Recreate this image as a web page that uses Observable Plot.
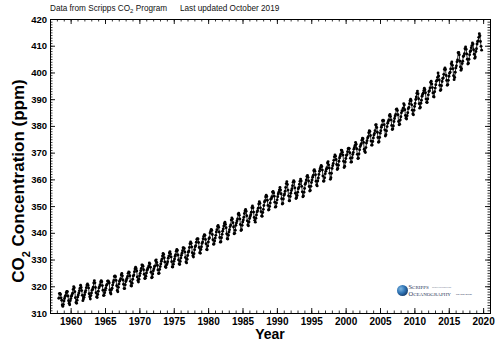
<!DOCTYPE html>
<html>
<head>
<meta charset="utf-8">
<script src="https://cdn.jsdelivr.net/npm/d3@7"></script>
<script src="https://cdn.jsdelivr.net/npm/@observablehq/plot@0.6"></script>
<style>
  html, body { margin: 0; padding: 0; background: #fff; }
  #chart svg { display: block; }
</style>
</head>
<body>
<div id="chart"></div>
<script>
// Mauna Loa monthly mean CO2 (ppm), starting March 1958
const startYear = 1958;
const startMonth = 3;

const co2_1958_1959 = [
  315.71, 317.45, 317.50, 317.10, 315.86, 314.93, 313.20, 312.66, 313.33, 314.67,
  315.62, 316.38, 316.71, 317.72, 318.29, 318.15, 316.54, 314.80, 313.84, 313.26, 314.80, 315.58
];
const co2_1960s = [
  316.43, 316.97, 317.58, 319.02, 320.03, 319.59, 318.18, 315.91, 314.16, 313.83, 315.00, 316.19,
  316.93, 317.70, 318.54, 319.48, 320.58, 319.77, 318.57, 316.79, 314.80, 315.38, 316.10, 317.01,
  317.94, 318.56, 319.68, 320.63, 321.01, 320.55, 319.58, 317.40, 316.26, 315.42, 316.69, 317.69,
  318.74, 319.08, 319.86, 321.39, 322.25, 321.47, 319.74, 317.77, 316.21, 315.99, 317.12, 318.31,
  319.57, 320.07, 320.73, 321.77, 322.25, 321.89, 320.44, 318.70, 316.70, 316.79, 317.79, 318.71,
  319.44, 320.44, 320.89, 322.13, 322.16, 321.87, 321.39, 318.81, 317.81, 317.30, 318.87, 319.42,
  320.62, 321.59, 322.39, 323.87, 324.01, 323.75, 322.39, 320.37, 318.64, 318.10, 319.79, 321.08,
  322.07, 322.50, 323.04, 324.42, 325.00, 324.09, 322.55, 320.92, 319.31, 319.31, 320.72, 321.96,
  322.57, 323.15, 323.89, 325.02, 325.57, 325.36, 324.14, 322.03, 320.41, 320.25, 321.31, 322.84,
  324.00, 324.42, 325.64, 326.66, 327.34, 326.76, 325.88, 323.67, 322.38, 321.78, 322.85, 324.11
];
const co2_1970s = [
  325.03, 325.99, 326.87, 328.13, 328.07, 327.66, 326.35, 324.69, 323.10, 323.16, 323.98, 325.13,
  326.17, 326.68, 327.18, 327.78, 328.92, 328.57, 327.34, 325.46, 323.36, 323.57, 324.80, 326.01,
  326.77, 327.63, 327.75, 329.72, 330.07, 329.09, 328.05, 326.32, 324.93, 325.06, 326.50, 327.55,
  328.54, 329.56, 330.30, 331.50, 332.48, 332.07, 330.87, 329.31, 327.51, 327.18, 328.16, 328.64,
  329.35, 330.71, 331.48, 332.65, 333.09, 332.25, 331.18, 329.40, 327.43, 327.37, 328.46, 329.57,
  330.40, 331.40, 332.04, 333.31, 333.96, 333.59, 331.91, 330.06, 328.56, 328.34, 329.49, 330.76,
  331.75, 332.56, 333.50, 334.58, 334.57, 334.34, 333.05, 330.94, 329.30, 328.94, 330.31, 331.68,
  332.93, 333.42, 334.70, 336.07, 336.75, 336.27, 334.92, 332.75, 331.59, 331.16, 332.40, 333.85,
  334.97, 335.38, 336.64, 337.76, 338.01, 337.89, 336.54, 334.68, 332.76, 332.55, 333.92, 334.95,
  336.23, 336.76, 337.96, 338.89, 339.47, 339.29, 337.73, 336.09, 333.91, 333.86, 335.29, 336.73
];
const co2_1980s = [
  338.01, 338.36, 340.08, 340.77, 341.46, 341.17, 339.56, 337.60, 335.88, 336.01, 337.10, 338.21,
  339.24, 340.48, 341.38, 342.51, 342.91, 342.25, 340.49, 338.43, 336.69, 336.86, 338.36, 339.61,
  340.75, 341.61, 342.70, 343.57, 344.14, 343.35, 342.06, 339.81, 337.98, 337.86, 339.26, 340.49,
  341.38, 342.52, 343.10, 344.94, 345.75, 345.32, 343.99, 342.39, 339.86, 339.99, 341.16, 342.99,
  343.82, 344.63, 345.38, 347.19, 347.54, 346.80, 345.39, 343.28, 341.07, 341.35, 342.98, 344.22,
  344.97, 345.99, 347.42, 348.35, 348.93, 348.25, 346.56, 344.67, 343.09, 342.80, 344.24, 345.56,
  346.29, 346.96, 347.86, 349.55, 350.21, 349.54, 347.94, 345.91, 344.86, 344.17, 345.66, 346.90,
  348.02, 348.47, 349.42, 350.99, 351.84, 351.25, 349.52, 348.10, 346.44, 346.36, 347.81, 348.96,
  350.43, 351.72, 352.22, 353.59, 354.22, 353.79, 352.39, 350.44, 348.72, 348.88, 350.07, 351.34,
  352.76, 353.07, 353.68, 355.42, 355.67, 355.13, 353.90, 351.67, 349.80, 349.99, 351.30, 352.53
];
const co2_1990s = [
  353.66, 354.70, 355.39, 356.20, 357.16, 356.22, 354.82, 352.91, 350.96, 351.18, 352.83, 354.21,
  354.72, 355.75, 357.16, 358.60, 359.34, 358.24, 356.17, 354.02, 352.15, 352.21, 353.75, 354.99,
  355.98, 356.72, 357.81, 359.15, 359.66, 359.25, 357.02, 355.00, 353.01, 353.31, 354.16, 355.40,
  356.70, 357.17, 358.38, 359.46, 360.28, 359.60, 357.57, 355.52, 353.69, 353.99, 355.34, 356.80,
  358.37, 358.91, 359.97, 361.26, 361.69, 360.94, 359.55, 357.49, 355.84, 356.00, 357.58, 359.04,
  359.97, 361.00, 361.64, 363.45, 363.79, 363.26, 361.90, 359.46, 358.06, 357.75, 359.56, 360.70,
  362.05, 363.25, 364.03, 364.72, 365.41, 364.97, 363.65, 361.49, 359.46, 359.60, 360.76, 362.33,
  363.18, 364.00, 364.57, 366.35, 366.79, 365.62, 364.47, 362.51, 360.19, 360.77, 362.43, 364.28,
  365.32, 366.15, 367.31, 368.61, 369.29, 368.87, 367.64, 365.77, 363.90, 364.23, 365.46, 366.97,
  368.15, 368.87, 369.59, 371.14, 371.00, 370.35, 369.27, 366.94, 364.63, 365.12, 366.67, 368.01
];
const co2_2000s = [
  369.14, 369.46, 370.52, 371.66, 371.82, 371.70, 370.12, 368.12, 366.62, 366.73, 368.29, 369.53,
  370.28, 371.50, 372.12, 372.87, 374.02, 373.30, 371.62, 369.55, 367.96, 368.09, 369.68, 371.24,
  372.44, 373.08, 373.52, 374.85, 375.55, 375.40, 374.02, 371.48, 370.71, 370.25, 372.08, 373.78,
  374.68, 375.63, 376.11, 377.65, 378.35, 378.13, 376.62, 374.50, 372.99, 373.00, 374.35, 375.70,
  376.79, 377.37, 378.41, 380.52, 380.63, 379.57, 377.79, 375.86, 374.06, 374.24, 375.86, 377.48,
  378.37, 379.69, 380.41, 382.10, 382.28, 382.13, 380.66, 378.71, 376.42, 376.88, 378.32, 379.92,
  381.18, 381.83, 382.42, 384.03, 384.49, 383.70, 382.44, 380.38, 378.82, 379.04, 380.17, 381.85,
  382.94, 383.86, 384.49, 386.37, 386.54, 385.98, 384.35, 381.85, 380.58, 380.84, 382.37, 383.61,
  385.07, 385.84, 385.83, 386.77, 388.51, 388.05, 386.25, 384.08, 383.09, 382.78, 384.01, 385.11,
  386.65, 387.12, 388.52, 389.57, 390.16, 389.62, 388.07, 386.08, 384.65, 384.33, 386.05, 387.49
];
const co2_2010s = [
  388.55, 390.07, 391.01, 392.38, 393.22, 392.24, 390.33, 388.52, 386.84, 387.16, 388.67, 389.81,
  391.30, 391.92, 392.45, 393.37, 394.28, 393.69, 392.59, 390.21, 389.00, 388.93, 390.24, 391.80,
  393.07, 393.35, 394.36, 396.43, 396.87, 395.88, 394.52, 392.54, 391.13, 391.01, 392.95, 394.34,
  395.61, 396.85, 397.26, 398.35, 399.98, 398.87, 397.37, 395.41, 393.39, 393.70, 395.19, 396.82,
  397.92, 398.10, 399.47, 401.33, 401.88, 401.31, 399.07, 397.21, 395.40, 395.65, 397.23, 398.79,
  399.85, 400.31, 401.51, 403.45, 404.10, 402.88, 401.61, 399.00, 397.50, 398.28, 400.24, 401.89,
  402.65, 404.16, 404.85, 407.57, 407.66, 406.81, 404.39, 402.25, 401.03, 401.57, 403.53, 404.42,
  406.17, 406.46, 407.22, 409.04, 409.69, 408.88, 407.12, 405.13, 403.37, 403.63, 405.12, 406.81,
  407.96, 408.32, 409.41, 410.24, 411.24, 410.79, 408.71, 406.99, 405.51, 405.95, 408.02, 409.07,
  410.83, 411.75, 411.97, 413.32, 414.66, 413.92, 411.77, 409.95, 408.54
];

// axis ticks
const xTickLabels = [1960, 1965, 1970, 1975, 1980, 1985, 1990, 1995, 2000, 2005, 2010, 2015, 2020];
const xMinorTicks = d3.range(1958, 2021);
const yTickLabels = [310, 320, 330, 340, 350, 360, 370, 380, 390, 400, 410, 420];
const yMinorTicks = d3.range(311, 420);

// build table: decimal date from month index
const values = [].concat(co2_1958_1959, co2_1960s, co2_1970s, co2_1980s, co2_1990s, co2_2000s, co2_2010s);
const data = values.map((v, i) => {
  const m = (startMonth - 1) + i;
  return {date: startYear + (m + 0.5) / 12, co2: v};
});

const W = 500, H = 343;
const mL = 50, mR = 10, mT = 19, mB = 30;
const innerW = W - mL - mR, innerH = H - mT - mB;
const minorLen = 2.5, majorLen = 5;

const chart = Plot.plot({
  width: W,
  height: H,
  marginLeft: mL,
  marginRight: mR,
  marginTop: mT,
  marginBottom: mB,
  x: {domain: [1957, 2021]},
  y: {domain: [310, 420]},
  style: {fontFamily: "'Liberation Sans', Arial, Helvetica, sans-serif", background: "#fff", color: "#000"},
  marks: [
    // inward tick marks on all four sides
    Plot.tickY(yMinorTicks, {y: d => d, insetRight: innerW - minorLen, stroke: "#000", strokeWidth: 0.8}),
    Plot.tickY(yTickLabels, {y: d => d, insetRight: innerW - majorLen, stroke: "#000", strokeWidth: 0.9}),
    Plot.tickY(yMinorTicks, {y: d => d, insetLeft: innerW - minorLen, stroke: "#000", strokeWidth: 0.8}),
    Plot.tickY(yTickLabels, {y: d => d, insetLeft: innerW - majorLen, stroke: "#000", strokeWidth: 0.9}),
    Plot.tickX(xMinorTicks, {x: d => d, insetTop: innerH - minorLen, stroke: "#000", strokeWidth: 0.8}),
    Plot.tickX(xTickLabels, {x: d => d, insetTop: innerH - majorLen, stroke: "#000", strokeWidth: 0.9}),
    Plot.tickX(xMinorTicks, {x: d => d, insetBottom: innerH - minorLen, stroke: "#000", strokeWidth: 0.8}),
    Plot.tickX(xTickLabels, {x: d => d, insetBottom: innerH - majorLen, stroke: "#000", strokeWidth: 0.9}),
    Plot.axisX(xTickLabels, {tickSize: 0, tickPadding: 4, fontSize: 10, fontWeight: "bold", label: null, tickFormat: d => String(d)}),
    Plot.axisY(yTickLabels, {tickSize: 0, tickPadding: 3.5, fontSize: 9.5, fontWeight: "bold", label: null}),
    Plot.line(data, {x: "date", y: "co2", stroke: "#000", strokeWidth: 0.85}),
    Plot.dot(data, {x: "date", y: "co2", r: 1.45, fill: "#000", stroke: "none"}),
    Plot.frame({stroke: "#000", strokeWidth: 1})
  ]
});

document.getElementById("chart").appendChild(chart);

// decorations: header, axis titles with subscripts, logo
const svg = d3.select(chart);
svg.selectAll("text").attr("fill", "#000");

const header = svg.append("g").attr("font-size", 8.2).attr("font-weight", "normal")
  .attr("fill", "#111").attr("text-anchor", "start");
const h1 = header.append("text").attr("x", 50).attr("y", 11.3);
h1.append("tspan").text("Data from Scripps CO");
h1.append("tspan").attr("font-size", 6).attr("dy", 2).text("2");
h1.append("tspan").attr("dy", -2).text(" Program");
header.append("text").attr("x", 180).attr("y", 11.3).text("Last updated October 2019");

const yt = svg.append("text")
  .attr("transform", "translate(24,181) rotate(-90)")
  .attr("text-anchor", "middle")
  .attr("font-size", 17)
  .attr("font-weight", "bold")
  .attr("fill", "#000");
yt.append("tspan").text("CO");
yt.append("tspan").attr("font-size", 11).attr("dy", 6).text("2");
yt.append("tspan").attr("dy", -6).text(" Concentration (ppm)");

svg.append("text")
  .attr("x", mL + innerW / 2)
  .attr("y", 339)
  .attr("text-anchor", "middle")
  .attr("font-size", 14)
  .attr("font-weight", "bold")
  .attr("fill", "#000")
  .text("Year");

// Scripps logo
const defs = svg.append("defs");
const grad = defs.append("radialGradient").attr("id", "sioGrad").attr("cx", "35%").attr("cy", "35%").attr("r", "70%");
grad.append("stop").attr("offset", "0%").attr("stop-color", "#7fb6e0");
grad.append("stop").attr("offset", "55%").attr("stop-color", "#2f74b5");
grad.append("stop").attr("offset", "100%").attr("stop-color", "#1a3f6e");
const logo = svg.append("g").attr("text-anchor", "start").attr("fill", "#1f3556");
logo.append("circle").attr("cx", 402.5).attr("cy", 290.5).attr("r", 5.5).attr("fill", "url(#sioGrad)");
const serif = "'Liberation Serif', 'DejaVu Serif', serif";
const s1 = logo.append("text").attr("x", 408.5).attr("y", 288.5).attr("font-family", serif);
s1.append("tspan").attr("font-size", 6.4).text("S");
s1.append("tspan").attr("font-size", 5).text("CRIPPS");
logo.append("text").attr("x", 432).attr("y", 288.3).attr("font-family", serif).attr("font-size", 2.5)
  .text("INSTITUTION OF");
const s2 = logo.append("text").attr("x", 408.5).attr("y", 295.5).attr("font-family", serif);
s2.append("tspan").attr("font-size", 6.4).text("O");
s2.append("tspan").attr("font-size", 5).text("CEANOGRAPHY");
logo.append("text").attr("x", 456).attr("y", 295.3).attr("font-family", "'Liberation Sans', sans-serif").attr("font-size", 2.5)
  .text("UC San Diego");
</script>
</body>
</html>
